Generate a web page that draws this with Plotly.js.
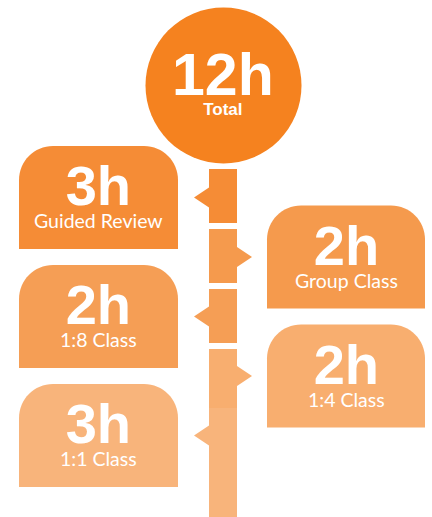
<!DOCTYPE html>
<html><head><meta charset="utf-8">
<script src="https://cdn.plot.ly/plotly-3.0.1.min.js"></script>
<style>html,body{margin:0;padding:0;background:#fff}#c{width:432px;height:517px}</style>
</head><body><div id="c"></div>
<script>
// ---- data ----
const categories = ["Guided Review", "Group Class", "1:8 Class", "1:4 Class", "1:1 Class"];
const hours = [3, 2, 2, 2, 3];
const totalLabel = "Total";
const colors = ["#F58C36", "#F59A4D", "#F59E55", "#F8AE6F", "#F8B47B"];
const circleColor = "#F5821F";

// ---- layout constants ----
const W = 432, H = 517;
const colX0 = 209, colX1 = 237;
const segs = [[169,223],[229,283],[289,343],[349,408],[408,517]];
const leftBox = [19, 178], rightBox = [267, 425];
const boxTop0 = 146, boxStep = 59.5, boxH = 103, rad = 34;
const numFont = "Liberation Sans";
const lblFont = "Lato";

const total = hours.reduce((a,b)=>a+b,0);

function boxPath(x0,y0,x1,y1,r){
  const k = 0.5523*r;
  return `M${x0},${y1} L${x0},${y0+r} C${x0},${y0+r-k} ${x0+r-k},${y0} ${x0+r},${y0} ` +
         `L${x1-r},${y0} C${x1-r+k},${y0} ${x1},${y0+r-k} ${x1},${y0+r} L${x1},${y1} Z`;
}
function twoLine(big, bigSize, small, smallSize, smallFont, smallBold){
  const s = smallBold ? "<b>"+small+"</b>" : small;
  return `<span style="font-family:${numFont};font-size:${bigSize}px"><b>${big}</b></span><br>` +
         `<span style="font-family:${smallFont};font-size:${smallSize}px">${s}</span>`;
}

const shapes = [];
const annotations = [];

// central column
segs.forEach((s,i)=>{
  shapes.push({type:"rect", xref:"x", yref:"y", x0:colX0, x1:colX1, y0:s[0], y1:s[1],
    fillcolor:colors[i], line:{width:0}, layer:"below"});
});

// circle
const cx = 223.5, cy = 85.5, cr = 78;
shapes.push({type:"circle", xref:"x", yref:"y", x0:cx-cr, x1:cx+cr, y0:cy-cr, y1:cy+cr,
  fillcolor:circleColor, line:{width:0}});
annotations.push({x:222.5, y:40, xref:"x", yref:"y",
  text:twoLine(total+"h", 59, totalLabel, 17, numFont, true), showarrow:false,
  font:{family:numFont, size:20/1.3, color:"#fff"}, xanchor:"center", yanchor:"top"});

categories.forEach((cat,i)=>{
  const left = (i%2===0);
  const [bx0,bx1] = left ? leftBox : rightBox;
  const top = boxTop0 + boxStep*i;
  const bot = top + boxH;
  const mid = top + boxH/2;
  shapes.push({type:"path", xref:"x", yref:"y", path:boxPath(bx0,top,bx1,bot,rad),
    fillcolor:colors[i], line:{width:0}});
  // triangle pointer
  const tp = left
    ? `M${colX0},${mid-10} L${colX0-15},${mid} L${colX0},${mid+10} Z`
    : `M${colX1},${mid-10} L${colX1+15},${mid} L${colX1},${mid+10} Z`;
  shapes.push({type:"path", xref:"x", yref:"y", path:tp, fillcolor:colors[i], line:{width:0}});
  const xc = (bx0+bx1)/2;
  annotations.push({x:xc, y:top+6, xref:"x", yref:"y",
    text:twoLine(hours[i]+"h", 56, cat, 19.5, lblFont, false), showarrow:false,
    font:{family:lblFont, size:23/1.3, color:"#fff"}, xanchor:"center", yanchor:"top"});
});

const layout = {
  width:W, height:H, margin:{l:0,r:0,t:0,b:0},
  paper_bgcolor:"#fff", plot_bgcolor:"#fff",
  xaxis:{range:[0,W], visible:false, fixedrange:true},
  yaxis:{range:[H,0], visible:false, fixedrange:true},
  shapes, annotations, showlegend:false
};
Plotly.newPlot("c", [{x:[], y:[], type:"scatter", hoverinfo:"skip"}], layout, {staticPlot:true, displayModeBar:false});
</script></body></html>
